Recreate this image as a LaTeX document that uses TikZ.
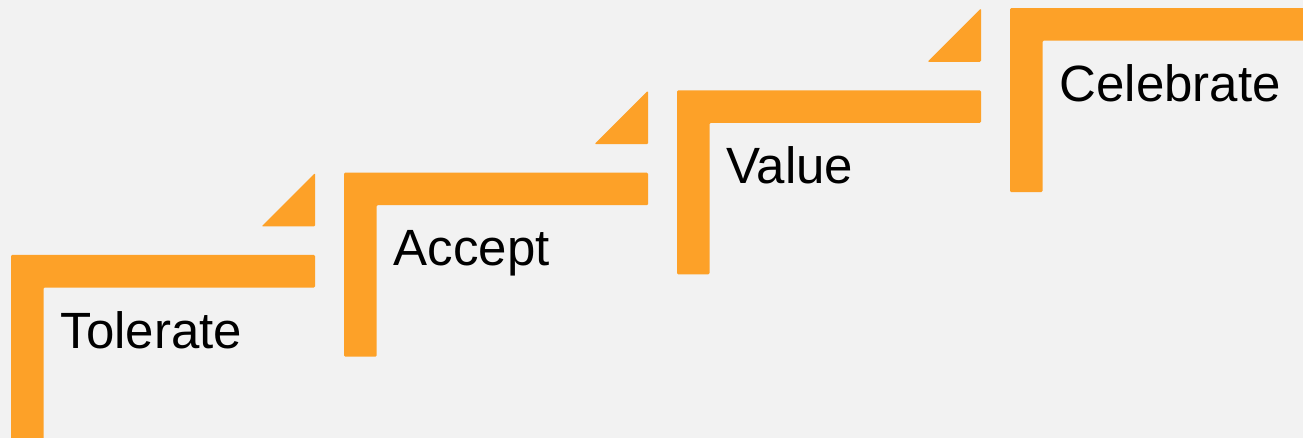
\documentclass[tikz,border=0pt]{standalone}
\usepackage{fontspec}
\setmainfont{Liberation Sans}
\definecolor{stepor}{HTML}{FDA128}
\definecolor{bg}{HTML}{F2F2F2}
\begin{document}
\begin{tikzpicture}[x=1pt,y=-1pt,
  bar/.style={fill=stepor, rounded corners=1.2pt},
  lbl/.style={anchor=base west, inner sep=0pt, font=\fontsize{51}{60}\selectfont}]
\fill[bg] (0,0) rectangle (1303,438);
\useasboundingbox (0,0) rectangle (1303,438);
\clip (0,0) rectangle (1303,438);
\foreach \i/\t in {0/Tolerate,1/Accept,2/Value,3/Celebrate} {
  \pgfmathsetmacro\X{11+333*\i}
  \pgfmathsetmacro\Y{255-82.3*\i}
  \fill[bar] (\X,\Y+184) -- (\X,\Y) -- (\X+304,\Y) -- (\X+304,\Y+32.5)
     -- (\X+32.5,\Y+32.5) -- (\X+32.5,\Y+184) -- cycle;
  \ifnum\i<3
    \fill[bar] (\X+304,\Y-82) -- (\X+304,\Y-28.5) -- (\X+250.5,\Y-28.5) -- cycle;
  \fi
  \node[lbl] (t\i) at (\X+49.5,\Y+93) {\t};
}
\end{tikzpicture}
\end{document}
